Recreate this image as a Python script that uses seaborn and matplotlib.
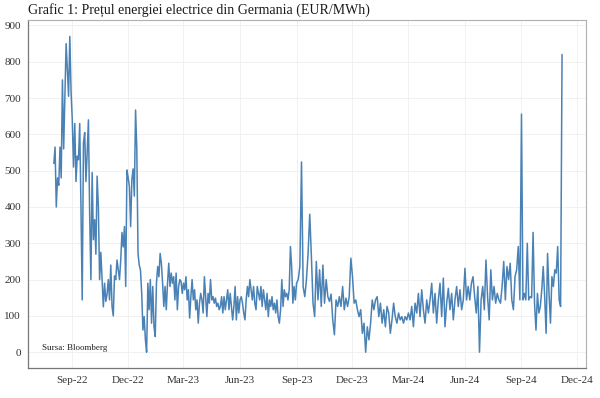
import numpy as np
import pandas as pd
import matplotlib
matplotlib.use("Agg")
import matplotlib.pyplot as plt
import matplotlib.dates as mdates
import seaborn as sns

# ---- data (EUR/MWh), grouped by period ----
seg_bounds = ["2022-08-02", "2022-09-01", "2022-12-01", "2023-03-01", "2023-06-01",
              "2023-09-01", "2023-12-01", "2024-03-01", "2024-06-01", "2024-09-01",
              "2024-11-06"]

aug_2022 = [520, 565, 400, 480, 460, 565, 480, 750, 560, 700, 850, 780, 705, 870, 720]
sep_nov_2022 = [640, 510, 630, 470, 540, 530, 630, 400, 144, 577, 605, 470, 550, 640, 380,
                200, 495, 310, 365, 270, 485, 400, 200, 275, 200, 125, 190, 140, 160, 200,
                144, 240, 126, 100, 210, 200, 254, 227, 200, 254, 330, 290, 346, 181, 502]
dec_feb_2023 = [480, 456, 346, 475, 505, 430, 667, 560, 272, 240, 226, 162, 61, 98, 34,
                0, 190, 117, 200, 80, 181, 70, 43, 190, 236, 208, 272, 245, 190, 126,
                181, 117, 190, 245, 181, 218, 190, 208, 144, 218, 117, 181, 200, 195, 162]
mar_may_2023 = [190, 172, 208, 144, 172, 94, 153, 200, 144, 172, 117, 144, 80, 135, 162,
                144, 108, 208, 153, 98, 162, 135, 200, 144, 153, 135, 149, 126, 135, 117,
                126, 153, 108, 153, 117, 144, 172, 117, 162, 126, 89, 126, 181, 89, 153, 108]
jun_aug_2023 = [144, 153, 135, 108, 89, 144, 181, 153, 200, 172, 144, 181, 135, 117, 181,
                162, 144, 181, 126, 172, 144, 117, 162, 98, 144, 126, 153, 117, 135, 108,
                144, 98, 80, 117, 200, 126, 172, 153, 162, 144, 172, 291, 236, 135, 181, 144]
sep_nov_2023 = [190, 200, 236, 524, 180, 153, 200, 272, 380, 265, 135, 98, 250, 144, 227,
                126, 240, 135, 200, 153, 140, 160, 89, 48, 144, 126, 153, 126, 181, 117,
                149, 126, 153, 259]
dec_feb_2024 = [208, 135, 144, 117, 98, 117, 52, 80, 0, 70, 34, 80, 144, 117, 144,
                153, 98, 135, 80, 117, 70, 126, 108, 52, 89, 135, 98, 80, 108, 89,
                98, 80, 98, 89]
mar_may_2024 = [108, 89, 126, 70, 135, 108, 162, 98, 172, 117, 80, 144, 108, 144, 190,
                108, 162, 80, 144, 190, 98, 204, 70, 135, 176, 117, 162, 89, 144, 181,
                126, 172, 117, 144]
jun_aug_2024 = [231, 144, 181, 144, 190, 208, 153, 108, 181, 0, 144, 181, 117, 254, 153,
                89, 227, 144, 181, 135, 162, 144, 135, 181, 250, 144, 236, 200, 245, 144,
                117, 208, 227, 291, 144]
sep_nov_2024 = [656, 144, 162, 144, 300, 144, 153, 150, 330, 135, 61, 162, 108, 126, 172,
                236, 153, 52, 272, 162, 80, 208, 181, 227, 218, 291, 144, 126, 820]

segments = [aug_2022, sep_nov_2022, dec_feb_2023, mar_may_2023, jun_aug_2023,
            sep_nov_2023, dec_feb_2024, mar_may_2024, jun_aug_2024, sep_nov_2024]

title = "Grafic 1: Prețul energiei electrice din Germania (EUR/MWh)"
source = "Sursa: Bloomberg"

# ---- build table ----
frames = []
for i, vals in enumerate(segments):
    start, end = seg_bounds[i], seg_bounds[i + 1]
    if i == len(segments) - 1:
        dates = pd.date_range(start, end, periods=len(vals))
    else:
        dates = pd.date_range(start, end, periods=len(vals) + 1)[:-1]
    frames.append(pd.DataFrame({"date": dates, "price": vals}))
df = pd.concat(frames, ignore_index=True)

# ---- style ----
sns.set_theme(style="whitegrid")
plt.rcParams["font.family"] = ["Liberation Serif", "DejaVu Serif"]

fig = plt.figure(figsize=(6.0, 3.98), dpi=100)
ax = fig.add_axes([0.0467, 0.0754, 0.93, 0.8743])

sns.lineplot(data=df, x="date", y="price", ax=ax, color="#4a82b6", linewidth=1.1)

ax.set_xlim(pd.Timestamp("2022-06-21"), pd.Timestamp("2024-12-15"))
ax.set_ylim(-43.5, 915)
ax.set_yticks(range(0, 901, 100))
ax.xaxis.set_major_locator(mdates.MonthLocator(bymonth=[3, 6, 9, 12]))
ax.xaxis.set_major_formatter(mdates.DateFormatter("%b-%y"))

ax.set_xlabel("")
ax.set_ylabel("")
ax.set_facecolor("white")
ax.grid(True, color="#efefef", linewidth=0.6)

for side in ["top", "right"]:
    ax.spines[side].set_color("#b0b0b0")
    ax.spines[side].set_linewidth(0.8)
for side in ["left", "bottom"]:
    ax.spines[side].set_color("#777777")
    ax.spines[side].set_linewidth(0.9)

ax.tick_params(axis="both", which="major", length=3, width=0.7, color="#777777",
               labelsize=8, labelcolor="#333333", pad=2)
ax.tick_params(axis="x", pad=3)

ax.text(0.025, 0.045, source, transform=ax.transAxes, fontsize=6.5, color="#222222",
        ha="left", va="bottom")
fig.text(0.0467, 0.975, title, fontsize=10, color="#1a1a1a", ha="left", va="center")

fig.savefig("out.png", dpi=100, facecolor="white")
